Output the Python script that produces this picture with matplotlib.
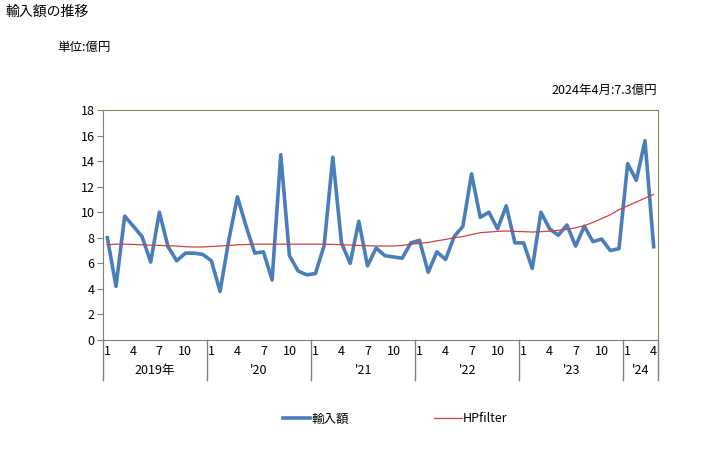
import numpy as np
import matplotlib.pyplot as plt
import matplotlib.transforms as mtransforms

plt.rcParams['font.family'] = ['Noto Sans CJK JP', 'DejaVu Sans']

# 2019/1 - 2024/4, monthly imports (100 million yen)
imports = [8.0, 4.2, 9.7, 8.9, 8.1, 6.1, 10.0, 7.3, 6.2, 6.8, 6.8, 6.7,
           6.2, 3.8, 7.8, 11.2, 8.9, 6.8, 6.9, 4.7, 14.5, 6.6, 5.4, 5.1,
           5.2, 7.4, 14.3, 7.6, 6.0, 9.3, 5.8, 7.2, 6.6, 6.5, 6.4, 7.6,
           7.8, 5.3, 6.9, 6.3, 8.1, 8.9, 13.0, 9.6, 10.0, 8.7, 10.5, 7.6,
           7.6, 5.6, 10.0, 8.7, 8.2, 9.0, 7.35, 8.9, 7.7, 7.9, 7.0, 7.15,
           13.8, 12.5, 15.6, 7.3]
hp = [7.45, 7.5, 7.5, 7.48, 7.45, 7.42, 7.4, 7.38, 7.35, 7.3, 7.28, 7.28,
      7.32, 7.36, 7.4, 7.45, 7.47, 7.5, 7.5, 7.5, 7.5, 7.5, 7.5, 7.5,
      7.5, 7.5, 7.48, 7.46, 7.43, 7.4, 7.38, 7.36, 7.35, 7.36, 7.4, 7.5,
      7.56, 7.64, 7.76, 7.87, 8.0, 8.1, 8.25, 8.4, 8.45, 8.5, 8.53, 8.5,
      8.48, 8.45, 8.48, 8.52, 8.58, 8.66, 8.78, 8.95, 9.2, 9.5, 9.8, 10.2,
      10.5, 10.8, 11.1, 11.4]
years = ['2019年', "'20", "'21", "'22", "'23", "'24"]
months = [1, 4, 7, 10]

x = np.arange(len(imports))
fig = plt.figure(figsize=(7.28, 4.5), dpi=100)
ax = fig.add_axes([103/728, 110/450, 555/728, 230/450])

ax.plot(x, imports, color='#4A7EBB', lw=2.6, label='輸入額')
ax.plot(x, hp, color='#D0413D', lw=0.9, label='HPfilter')

ax.set_xlim(-0.5, len(imports) - 0.5)
ax.set_ylim(0, 18)
ax.set_yticks(range(0, 19, 2))
ax.tick_params(axis='y', labelsize=9, length=4, color='#808080', pad=2)
ax.set_xticks([])

for s in ['left', 'bottom']:
    ax.spines[s].set_color('#808080')
for s in ['top', 'right']:
    ax.spines[s].set_color('#8C8650')

trans = mtransforms.blended_transform_factory(ax.transData, ax.transAxes)
grid_h = 40 / 230
starts = list(range(0, len(imports), 12)) + [len(imports)]
for b in starts:
    ax.plot([b - 0.5, b - 0.5], [0, -grid_h], transform=trans, color='#808080',
            lw=1, clip_on=False)
for i, y in enumerate(years):
    n = min(12, len(imports) - i * 12)
    for m in months:
        if m <= n:
            ax.text(i * 12 + m - 1, -0.02, str(m), transform=trans, ha='center',
                    va='top', fontsize=9)
    ax.text(i * 12 + (n - 1) / 2, -0.105, y, transform=trans, ha='center',
            va='top', fontsize=9)

fig.text(5/728, 1 - 12/450, '輸入額の推移', fontsize=10, va='center')
fig.text(57/728, 1 - 47/450, '単位:億円', fontsize=9, va='center')
fig.text(657/728, 1 - 90/450, '2024年4月:7.3億円', fontsize=9, va='center', ha='right')

fig.legend(loc='center', bbox_to_anchor=(0.543, 1 - 419/450), ncol=2, frameon=False,
           fontsize=9, handlelength=2.2, handletextpad=0.1, columnspacing=6.8)

fig.savefig('out.png', dpi=100)
